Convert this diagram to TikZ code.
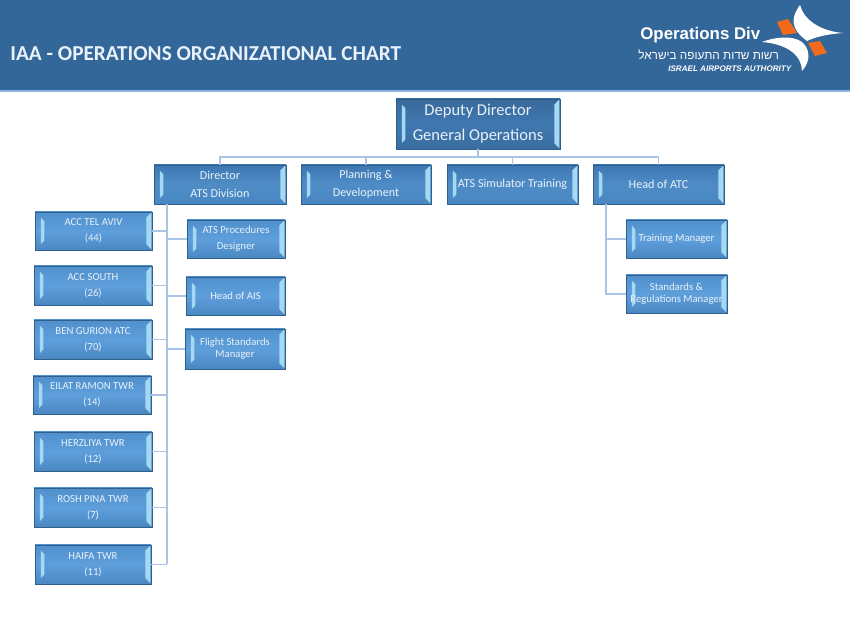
\documentclass[tikz,border=0pt]{standalone}
\usepackage{fontspec}
\setmainfont{Carlito}
\newfontfamily\logofont{Liberation Sans}
\newfontfamily\hebfont[Script=Hebrew]{Liberation Sans}
\TeXXeTstate=1
\definecolor{headblue}{HTML}{336699}
\definecolor{headline}{HTML}{8FB4DC}
\definecolor{linkblue}{HTML}{A9C4E6}
\definecolor{boxedge}{HTML}{2F5F8C}
\definecolor{bevel}{HTML}{A5D8F3}
\definecolor{boxtext}{HTML}{E9F2FA}
\definecolor{logoorange}{HTML}{F26A1B}
\definecolor{lowtop}{HTML}{5090CC}
\definecolor{lowmid}{HTML}{5E9EDB}
\definecolor{lowbot}{HTML}{4A88C2}
\definecolor{rowtop}{HTML}{3E78B2}
\definecolor{rowmid}{HTML}{4F8CC6}
\definecolor{rowbot}{HTML}{4887C2}
\definecolor{headtop}{HTML}{39699A}
\definecolor{headmid}{HTML}{3F78B0}
\definecolor{headbot}{HTML}{3A6D9F}
\tikzset{
  chartbox/.style 2 args={rectangle,draw=boxedge,line width=0.4pt,
    minimum width=#1*0.02cm,minimum height=#2*0.02cm,inner sep=0pt,align=center,
    text=boxtext,font=\fontsize{6.1}{9.2}\selectfont,
    top color=lowtop,bottom color=lowbot,middle color=lowmid,
    path picture={
      \fill[bevel] ([xshift=3.4pt,yshift=3.4pt]path picture bounding box.south west)
        -- ++(2pt,2pt) |- ([xshift=5.4pt,yshift=-5.4pt]path picture bounding box.north west)
        -- ([xshift=3.4pt,yshift=-3.4pt]path picture bounding box.north west) -- cycle;
      \fill[bevel] ([xshift=-0.4pt,yshift=-0.4pt]path picture bounding box.north east)
        -- ++(-2.8pt,-2.8pt) |- ([xshift=-3.2pt,yshift=3.2pt]path picture bounding box.south east)
        -- ([xshift=-0.4pt,yshift=0.4pt]path picture bounding box.south east) -- cycle;
    }},
  toprow/.style={font=\fontsize{6.9}{10}\selectfont,
    top color=rowtop,bottom color=rowbot,middle color=rowmid},
  headbox/.style={font=\fontsize{9.4}{14.4}\selectfont,
    top color=headtop,bottom color=headbot,middle color=headmid},
  link/.style={draw=linkblue,line width=0.7pt}
}
\begin{document}
\begin{tikzpicture}[x=0.02cm,y=-0.02cm]
  \useasboundingbox (0,0) rectangle (850,638);
  % banner
  \fill[headblue] (0,0) rectangle (850,90);
  \fill[headline] (0,90) rectangle (850,92);
  \node[anchor=west,text=boxtext,font=\fontsize{12.1}{14}\selectfont\bfseries,inner sep=0pt] (title) at (10,54)
    {IAA - OPERATIONS ORGANIZATIONAL CHART};
  % logo
  \fill[logoorange] (777,22) -- (788,19) -- (797,33) -- (783,35) -- cycle;
  \fill[logoorange] (808,43) -- (820,41) -- (827,53) -- (815,56) -- cycle;
  \fill[white] (800,5) .. controls (804,20) and (820,31) .. (843,33)
    .. controls (828,34) and (815,37) .. (807,41) .. controls (798,34) and (786,24) .. (800,5) -- cycle;
  \fill[white] (762,42) .. controls (775,37) and (792,35) .. (802,42)
    .. controls (809,48) and (812,60) .. (802,71) .. controls (802,56) and (788,44) .. (762,42) -- cycle;
  \node[anchor=west,text=white,font=\logofont\bfseries\fontsize{9.6}{12}\selectfont,inner sep=0pt] (logoname) at (640,35) {Operations Div};
  \node[anchor=west,text=white,font=\hebfont\fontsize{6.7}{10}\selectfont,inner sep=0pt] (logoheb) at (638,55) {\beginR רשות שדות התעופה בישראל\endR};
  \node[anchor=west,text=white,font=\logofont\bfseries\itshape\fontsize{4.6}{5}\selectfont,inner sep=0pt] (logoeng) at (668,69) {ISRAEL AIRPORTS AUTHORITY};

  % top row
  \node[chartbox={164}{50},headbox] (deputy) at (478,124) {Deputy Director\\General Operations};
  \node[chartbox={132}{39},toprow] (director) at (220,184.5) {Director\\ATS Division};
  \node[chartbox={130}{39},toprow] (planning) at (366,184.5) {Planning \&\\Development};
  \node[chartbox={131}{39},toprow] (simulator) at (512.5,184.5) {ATS Simulator Training};
  \node[chartbox={131}{39},toprow] (headatc) at (658.5,184.5) {Head of ATC};
  % right of the ATS trunk
  \node[chartbox={98}{38}] (procedures) at (236,239) {ATS Procedures\\Designer};
  \node[chartbox={99}{38}] (headais) at (235.5,296) {Head of AIS};
  \node[chartbox={100}{40},font=\fontsize{6.1}{6.6}\selectfont] (flight) at (235,349) {Flight Standards\\Manager};
  % left of the ATS trunk
  \node[chartbox={117}{38}] (telaviv) at (93.5,231) {ACC TEL AVIV\\(44)};
  \node[chartbox={118}{39}] (south) at (93,285.5) {ACC SOUTH\\(26)};
  \node[chartbox={118}{39}] (gurion) at (93,339.5) {BEN GURION ATC\\(70)};
  \node[chartbox={118}{38}] (eilat) at (92,395) {EILAT RAMON TWR\\(14)};
  \node[chartbox={118}{39}] (herzliya) at (93,451.5) {HERZLIYA TWR\\(12)};
  \node[chartbox={118}{39}] (rosh) at (93,507.5) {ROSH PINA TWR\\(7)};
  \node[chartbox={116}{39}] (haifa) at (93,564.5) {HAIFA TWR\\(11)};
  % under head of atc
  \node[chartbox={101}{38}] (training) at (676.5,239) {Training Manager};
  \node[chartbox={101}{38},font=\fontsize{6.1}{6.6}\selectfont] (standards) at (676.5,294) {Standards \&\\Regulations Manager};

  \coordinate (topbus) at (478,157);
  \coordinate (atsbus) at (167,204);
  \coordinate (atcbus) at (606,204);

  \draw[link] (deputy.south) -- (topbus);
  \draw[link] (director.north) |- (topbus) -| (headatc.north);
  \draw[link] (planning.north) -- (planning.north |- topbus);
  \draw[link] (simulator.north) -- (simulator.north |- topbus);
  \draw[link] (atsbus) -- (atsbus |- haifa.east);
  \foreach \n in {telaviv,south,gurion,eilat,herzliya,rosh,haifa}
    \draw[link] (\n.east) -- (\n.east -| atsbus);
  \foreach \n in {procedures,headais,flight}
    \draw[link] (\n.west) -- (\n.west -| atsbus);
  \draw[link] (atcbus) |- (standards.west);
  \draw[link] (training.west) -- (training.west -| atcbus);
\end{tikzpicture}
\end{document}
